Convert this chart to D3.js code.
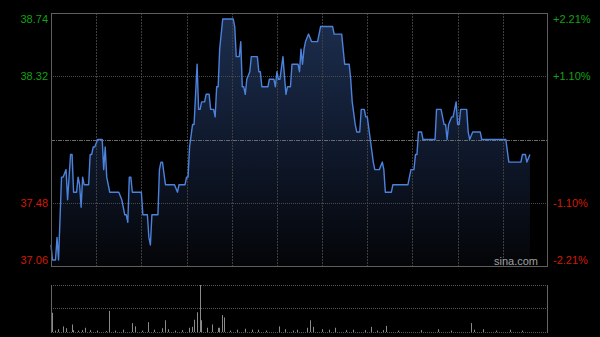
<!DOCTYPE html>
<html><head><meta charset="utf-8">
<script src="https://cdn.jsdelivr.net/npm/d3@7/dist/d3.min.js"></script>
<style>html,body{margin:0;padding:0;background:#000;}svg{display:block;}</style>
</head><body>
<script>
// ---- data ----
const prevClose = 37.90;
const priceTicks = [38.74, 38.32, 37.90, 37.48, 37.06];
const priceLabels = ["38.74", "38.32", "", "37.48", "37.06"];
const pctLabels = ["+2.21%", "+1.10%", "", "-1.10%", "-2.21%"];
// minute index from open (HK session, 330 min) and price at each vertex
const minutes = [0,1,3,4,5,7,8,10,11,13,14,15,17,18,19,20,21,22,25,26,27,28,29,31,34,35,36,37,39,45,47,49,50,51,52,53,54,60,61,64,65,66,67,71,72,73,74,76,
  82,84,85,89,90,91,92,94,95,97,98,99,100,102,103,105,106,108,109,110,111,112,114,121,122,123,125,126,127,128,129,130,132,133,137,138,139,140,144,145,148,149,150,151,152,154,156,157,159,160,164,165,166,
  167,168,169,171,173,177,179,187,188,193,195,198,199,200,202,203,205,206,208,209,210,212,214,215,218,220,221,222,226,227,237,239,241,242,243,244,246,247,
  255,256,259,261,262,263,264,266,267,269,270,271,272,276,277,278,280,285,286,302,304,312,313,315,316,318];
const prices = [37.20,37.10,37.10,37.25,37.10,37.65,37.65,37.70,37.50,37.80,37.80,37.55,37.55,37.65,37.60,37.45,37.65,37.60,37.60,37.80,37.80,37.85,37.85,37.90,37.90,37.70,37.85,37.65,37.55,37.55,37.50,37.40,37.40,37.35,37.65,37.65,37.55,37.55,37.40,37.40,37.25,37.20,37.40,37.40,37.70,37.75,37.75,37.60,
  37.60,37.55,37.60,37.60,37.65,37.65,37.85,38.00,38.00,38.40,38.10,38.10,38.15,38.15,38.20,38.20,38.10,38.10,38.05,38.25,38.25,38.50,38.70,38.70,38.65,38.45,38.45,38.55,38.25,38.25,38.20,38.30,38.35,38.45,38.45,38.35,38.35,38.25,38.25,38.30,38.30,38.25,38.35,38.30,38.30,38.45,38.20,38.25,38.25,38.40,38.40,38.35,38.50,
  38.40,38.50,38.55,38.60,38.55,38.55,38.65,38.65,38.60,38.60,38.40,38.40,38.30,38.15,38.00,37.95,37.95,38.10,38.10,38.05,38.05,37.90,37.75,37.70,37.70,37.75,37.70,37.55,37.55,37.60,37.60,37.70,37.70,37.80,37.80,37.95,37.95,37.90,
  37.90,38.10,38.10,38.00,38.00,37.90,38.00,38.05,38.05,38.15,38.00,38.00,38.10,38.10,37.95,37.90,37.95,37.95,37.90,37.90,37.75,37.75,37.80,37.80,37.75,37.80];
// volume bars (minute, relative volume)
const volMinutes = [0,2,4,7,9,13,14,17,20,22,25,30,36,38,42,47,53,55,60,64,68,73,75,77,82,86,91,93,94,96,98,99,103,106,110,111,113,114,118,123,128,133,137,142,151,155,160,163,169,171,173,179,184,188,195,200,208,212,216,220,222,230,245,256,265,278,280,286,295,304,312];
const volValues  = [41,3,6,12,8,16,4,3,4,9,4,3,2,45,3,5,19,12,3,21,5,8,25,6,3,4,9,11,26,42,100,25,9,16,9,9,36,31,3,5,7,5,5,3,12,6,3,5,9,25,11,6,5,9,4,5,4,11,3,4,13,3,4,6,3,19,5,6,3,5,3];

// ---- layout ----
const W = 600, H = 337;
const L = 51, R = 548, T = 13, B = 266;
const VT = 285, VB = 332;

const svg = d3.select("body").append("svg").attr("width", W).attr("height", H)
  .style("background", "#000");

const x = d3.scaleLinear().domain([0, 330]).range([L, R]);
const y = d3.scaleLinear().domain([37.06, 38.74]).range([B, T]);
const vy = d3.scaleLinear().domain([0, 100]).range([VB, VT]);

const defs = svg.append("defs");
const grad = defs.append("linearGradient").attr("id", "fillGrad")
  .attr("gradientUnits", "userSpaceOnUse").attr("x1", 0).attr("y1", T).attr("x2", 0).attr("y2", B);
grad.append("stop").attr("offset", "0%").attr("stop-color", "#1c2e4e");
grad.append("stop").attr("offset", "55%").attr("stop-color", "#0f182b");
grad.append("stop").attr("offset", "100%").attr("stop-color", "#040508");

const pts = minutes.map((m, i) => [m, prices[i]]);
// area first so grid shows through
svg.append("path").datum(pts)
  .attr("d", d3.area().x(d => x(d[0])).y0(B).y1(d => y(d[1])))
  .attr("fill", "url(#fillGrad)");

// vertical grid
const vTicks = d3.range(30, 330, 30);
svg.append("g").selectAll("line").data(vTicks).join("line")
  .attr("x1", d => Math.round(x(d)) + 0.5).attr("x2", d => Math.round(x(d)) + 0.5)
  .attr("y1", T).attr("y2", B)
  .attr("stroke", "#3e3e3e").attr("stroke-dasharray", "2,1");

// horizontal grid
svg.append("g").selectAll("line").data(priceTicks.filter(d => d !== 38.74 && d !== 37.06)).join("line")
  .attr("x1", L).attr("x2", R)
  .attr("y1", d => Math.round(y(d)) + 0.5).attr("y2", d => Math.round(y(d)) + 0.5)
  .attr("stroke", d => d === prevClose ? "#6a6a6a" : "#4a4a4a")
  .attr("stroke-dasharray", d => d === prevClose ? "4,1,1,1" : "1,1");

// line
svg.append("path").datum(pts)
  .attr("d", d3.line().x(d => x(d[0])).y(d => y(d[1])))
  .attr("fill", "none").attr("stroke", "#4c82dc").attr("stroke-width", 1.4)
  .attr("stroke-linejoin", "round");

// frame
svg.append("rect").attr("x", L + 0.5).attr("y", T + 0.5).attr("width", R - L - 1).attr("height", B - T)
  .attr("fill", "none").attr("stroke", "#5e5e5e");

// labels
const fnt = "'Liberation Sans', Arial, sans-serif";
const col = d => d > prevClose ? "#14a014" : "#d21a00";
const lab = svg.append("g").style("font-family", fnt).style("font-size", "11px");
const labY = (d, i) => i === 0 ? y(d) + 10 : (i === priceTicks.length - 1 ? y(d) - 2 : y(d) + 4);
lab.selectAll("text.l").data(priceTicks).join("text").attr("class", "l")
  .attr("x", L - 3).attr("y", labY).attr("text-anchor", "end")
  .attr("fill", col).text((d, i) => priceLabels[i]);
lab.selectAll("text.r").data(priceTicks).join("text").attr("class", "r")
  .attr("x", R + 5).attr("y", labY).attr("text-anchor", "start")
  .attr("fill", col).text((d, i) => pctLabels[i]);

svg.append("text").attr("x", 538).attr("y", 265).attr("text-anchor", "end")
  .style("font-family", fnt).style("font-size", "11px").attr("fill", "#a0a0a0").text("sina.com");

// volume panel
svg.append("g").selectAll("line").data([VT, (VT + VB) / 2 - 0.5, VB]).join("line")
  .attr("x1", L).attr("x2", R).attr("y1", d => Math.round(d) + 0.5).attr("y2", d => Math.round(d) + 0.5)
  .attr("stroke", "#555").attr("stroke-dasharray", "1,1");
svg.append("line").attr("x1", L + 0.5).attr("x2", L + 0.5).attr("y1", VT).attr("y2", VB + 1).attr("stroke", "#666");
svg.append("line").attr("x1", R - 0.5).attr("x2", R - 0.5).attr("y1", VT).attr("y2", VB + 1).attr("stroke", "#666");
svg.append("g").selectAll("line").data(volMinutes.map((m, i) => [m, volValues[i]])).join("line")
  .attr("x1", d => Math.round(x(d[0])) + 1.5).attr("x2", d => Math.round(x(d[0])) + 1.5)
  .attr("y1", VB).attr("y2", d => vy(d[1]))
  .attr("stroke", "#8a8a8a").attr("stroke-width", 1);
</script>
</body></html>
